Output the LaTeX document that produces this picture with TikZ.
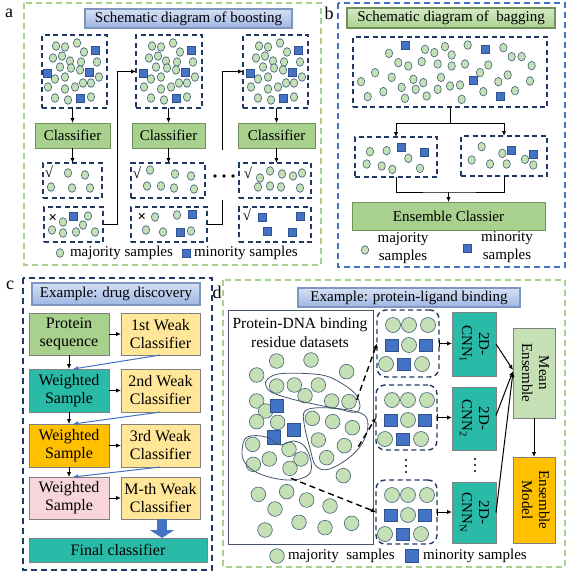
\documentclass[tikz,border=0pt]{standalone}
\usepackage{fontspec}
\usepackage{graphicx}
\setmainfont{Liberation Serif}
\usetikzlibrary{arrows.meta,calc}
\definecolor{cfill}{HTML}{C5E0B4}
\definecolor{cdraw}{HTML}{41607A}
\definecolor{sqfill}{HTML}{4472C4}
\definecolor{sqdraw}{HTML}{2F528F}
\definecolor{navy}{HTML}{1F3864}
\definecolor{pgreen}{HTML}{A9D18E}
\definecolor{gborder}{HTML}{70905C}
\definecolor{tb1}{HTML}{D6E0F3}
\definecolor{tb2}{HTML}{9EB6E4}
\definecolor{tbord}{HTML}{7F96C0}
\definecolor{tg1}{HTML}{D5E9C8}
\definecolor{tg2}{HTML}{A9D18E}
\definecolor{myteal}{HTML}{29BBA8}
\definecolor{lyellow}{HTML}{FFE699}
\definecolor{gold}{HTML}{FFC000}
\definecolor{lpink}{HTML}{F8D5DA}
\definecolor{boxgray}{HTML}{808080}
\definecolor{ablue}{HTML}{4472C4}
\definecolor{slate}{HTML}{44546A}
\begin{document}
\begin{tikzpicture}[x=1pt,y=-1pt,
  every node/.style={inner sep=0pt, outer sep=0pt, font=\fontsize{15}{17}\selectfont},
  circA/.style={draw=cdraw, fill=cfill, line width=0.6pt},
  sqA/.style={draw=sqdraw, fill=sqfill, line width=0.6pt},
  sbox/.style={draw=navy, dash pattern=on 5pt off 3.5pt, line width=1.4pt},
  panelG/.style={draw=pgreen, dash pattern=on 6pt off 4pt, line width=1.3pt},
  gbox/.style={draw=gborder, fill=pgreen, line width=0.8pt},
  tblue/.style={draw=tbord, top color=tb1, bottom color=tb2, line width=1.2pt},
  tgreen/.style={draw=gborder, top color=tg1, bottom color=tg2, line width=1.2pt},
  arr/.style={-{Latex[length=5pt,width=4.5pt]}, line width=1pt},
  barr/.style={-{Latex[length=5pt,width=4.5pt]}, line width=1pt, draw=ablue},
  cbox/.style={draw=boxgray, line width=0.8pt, align=center, font=\fontsize{16}{18}\selectfont},
  lab/.style={font=\fontsize{18}{20}\selectfont},
  dsh/.style={-{Latex[length=5pt,width=4.5pt]}, line width=1.4pt, dash pattern=on 6pt off 4pt},
]
\useasboundingbox (0,0) rectangle (567,573);

%================ PANEL A =================
\node[lab] (la) at (9,13) {a};
\draw[panelG] (24,3) rectangle (321,265);
\node[tblue, minimum width=207, minimum height=19] (ta) at (188.5,18.5) {Schematic diagram of boosting};

\node[sbox, minimum width=65, minimum height=73] (s1) at (74.5,71.5) {};
\node[sbox, minimum width=66, minimum height=73] (s2) at (169,71.5) {};
\node[sbox, minimum width=65, minimum height=73] (s3) at (275.5,71.5) {};
\foreach \ox in {42,138,245}{
  \begin{scope}[shift={(\ox,35)}]
    \foreach \x/\y in {14/11,23/12,35/8,42/17,11/23,20/21,28/26,39/27,55/27,18/32,29/33,38/35,13/44,23/42,41/48,49/48,57/42,6/52,23/54,33/52,13/63,26/65,49/62}
      \path[circA] (\x,\y) ellipse [x radius=3.7pt, y radius=4.3pt];
    \foreach \x/\y in {53/15,5/38,47/37,38/63}
      \path[sqA] (\x,\y) +(-4pt,-4pt) rectangle +(4pt,4pt);
  \end{scope}
}

\node[gbox, minimum width=75, minimum height=25] (c1) at (72.5,135.5) {Classifier};
\node[gbox, minimum width=73, minimum height=25] (c2) at (168.5,135.5) {Classifier};
\node[gbox, minimum width=77, minimum height=25] (c3) at (276.5,135.5) {Classifier};

\node[sbox, minimum width=59, minimum height=35] (r1) at (72.5,180.5) {};
\node[sbox, minimum width=74, minimum height=35] (r2) at (168,180.5) {};
\node[sbox, minimum width=72, minimum height=35] (r3) at (275,180.5) {};
\node[sbox, minimum width=59, minimum height=35] (w1) at (73.5,224.5) {};
\node[sbox, minimum width=76, minimum height=35] (w2) at (169,224.5) {};
\node[sbox, minimum width=72, minimum height=35] (w3) at (275,224.5) {};

% result contents
\node (k1) at (49,172) {\textbf{√}};
\node (k2) at (137,173) {\textbf{√}};
\node (k3) at (248,173) {\textbf{√}};
\node (x1) at (53,218) {\textbf{×}};
\node (x2) at (142,217) {\textbf{×}};
\node (k4) at (247,215) {\textbf{√}};
\foreach \x/\y in {68/173,85/175,51/187,72/188,90/188,
                   150/170,175/174,191/176,147/186,161/186,174/188,194/189,
                   260/178,270/171,282/174,293/176,302/173,258/187,270/186,281/187,300/188,
                   63/222,88/216,83/225,52/230,63/233,76/232,95/232,
                   155/217,177/215,146/230,163/232,191/231}
  \path[circA] (\x,\y) ellipse [x radius=3.7pt, y radius=4.3pt];
\foreach \x/\y in {73/216,192/214,180/232,262/217,267/231,292/232,300/216}
  \path[sqA] (\x,\y) +(-4pt,-4pt) rectangle +(4pt,4pt);

\foreach \i in {1,2,3}{
  \draw[arr] (c\i.north |- s\i.south) -- (c\i.north);
  \draw[arr] (c\i.south) -- (c\i.south |- r\i.north);
}
\draw[arr] (w1.east) -- ++(14,0) |- (s2.west);
\draw[arr] (w2.east) -- ++(15,0) |- (s3.west);
\node[fill=white, minimum width=22, minimum height=50] (gap) at (224,175) {};
\foreach \x in {215,224,233} \fill (\x,176) circle (1.8pt);

\path[circA] (60,253) ellipse [x radius=3.7pt, y radius=4.3pt];
\node[anchor=west] (lma) at (70,253) {majority samples};
\path[sqA] (182,249) rectangle (190,257);
\node[anchor=west] (lmi) at (194,253) {minority samples};

%================ PANEL B =================
\node[lab] (lb) at (329,13) {b};
\draw[panelG, draw=ablue] (338,3) rectangle (565,267);
\node[tgreen, minimum width=208, minimum height=20] (tb) at (451,18) {Schematic diagram of\ \ bagging};
\node[sbox, minimum width=194, minimum height=70] (bb) at (450,72) {};
\node[sbox, minimum width=82, minimum height=40] (bl) at (396,157) {};
\node[sbox, minimum width=86, minimum height=40] (br) at (504,156) {};
\begin{scope}[shift={(285,0)}, x=0.33333pt, y=-0.33333pt]
  \foreach \x/\y in {312/160,420/148,448/158,480/140,548/135,655/143,500/165,340/188,370/198,410/185,458/192,500/198,540/192,585/218,610/195,680/170,710/170,740/197,270/218,320/232,385/238,415/248,468/232,228/245,350/262,392/268,458/268,495/258,525/255,595/275,640/245,668/225,735/243,690/272,248/290,295/275,360/295,425/288,530/298,
     255/455,305/452,370/475,245/492,290/498,322/508,405/505,
     590/440,652/460,560/480,615/492,665/492,720/478,745/495}
    \path[circA] (\x,\y) ellipse [x radius=3.7pt, y radius=4.3pt];
  \foreach \x/\y in {360/135,602/147,565/242,645/290,348/442,418/458,680/450,745/462}
    \path[sqA] (\x,\y) +(-4pt,-4pt) rectangle +(4pt,4pt);
\end{scope}
\node[gbox, minimum width=193, minimum height=28] (ens) at (448.5,216) {Ensemble Classier};
\draw[line width=1pt] (bb.south) -- ++(0,16) coordinate (bsplit);
\draw[arr] (bsplit) -| (bl.north);
\draw[arr] (bsplit) -| (br.north);
\coordinate (bmerge) at (448.5,192);
\draw[line width=1pt] (bl.south) |- (bmerge) -| (br.south);
\draw[arr] (bmerge) -- (ens.north);
\path[circA] (365,250) ellipse [x radius=3.7pt, y radius=4.3pt];
\node[align=center, font=\fontsize{15}{18}\selectfont] (lbm) at (403,248) {majority\\samples};
\path[sqA] (463,244) rectangle (471,252);
\node[align=center, font=\fontsize{15}{18}\selectfont] (lbn) at (507,247) {minority\\samples};

%================ PANEL C =================
\node[lab] (lc) at (10,285) {c};
\draw[panelG, draw=navy] (23,278) rectangle (212,570);
\node[tblue, minimum width=168, minimum height=22] (tc) at (116,294) {Example: drug discovery};
\node[cbox, fill=pgreen, minimum width=80, minimum height=42] (p1) at (69,334) {Protein\\sequence};
\node[cbox, fill=lyellow, minimum width=79, minimum height=42] (q1) at (160.5,334) {1st Weak\\Classifier};
\node[cbox, fill=myteal, minimum width=80, minimum height=43] (p2) at (69,390.5) {Weighted\\Sample};
\node[cbox, fill=lyellow, minimum width=79, minimum height=43] (q2) at (160.5,390.5) {2nd Weak\\Classifier};
\node[cbox, fill=gold, minimum width=80, minimum height=43] (p3) at (69,445.5) {Weighted\\Sample};
\node[cbox, fill=lyellow, minimum width=79, minimum height=43] (q3) at (160.5,445.5) {3rd Weak\\Classifier};
\node[cbox, fill=lpink, minimum width=80, minimum height=42] (p4) at (69,498) {Weighted\\Sample};
\node[cbox, fill=lyellow, minimum width=79, minimum height=42] (q4) at (160.5,498) {M-th Weak\\Classifier};
\node[cbox, fill=myteal, minimum width=178, minimum height=24] (fin) at (118,550) {Final classifier};
\foreach \i in {1,2,3,4} \draw[arr] (p\i.east) -- (q\i.west);
\foreach \i/\j in {1/2,2/3,3/4}{
  \draw[arr] (p\i.south) -- (p\j.north);
  \draw[barr] (q\i.south) -- ($(p\j.north)+(4,0)$);
}
\draw[ablue, line width=10pt, -{Triangle[length=8pt 0 0, width=24pt 0 0]}] ($(q4.south)+(1.5,0)$) -- ($(q4.south |- fin.north)+(1.5,0)$);

%================ PANEL D =================
\node[lab] (ld) at (217,292) {d};
\draw[panelG] (223,280) rectangle (565,567);
\node[tblue, minimum width=222, minimum height=19] (td) at (409,297.5) {Example: protein-ligand binding};
\node[draw=slate, line width=1pt, minimum width=145, minimum height=234] (dl) at (300.5,427) {};
\node[align=center, font=\fontsize{15.5}{19}\selectfont] (dlt) at (300,332.5) {Protein-DNA binding\\residue datasets};
\begin{scope}[shift={(225,305)}, x=0.33333pt, y=-0.33333pt]
  \foreach \x/\y in {155/168,258/165,95/210,365/200,155/243,208/240,280/240,240/272,320/288,372/290,95/288,122/318,95/350,158/352,262/340,323/350,382/368,280/405,358/422,83/418,192/433,85/478,133/462,228/462,305/458,195/490,355/512,100/568,185/560,245/585,315/603,150/612,222/652,300/668,380/655,120/675}
    \path[circA] (\x,\y) circle (7.3pt);
  \foreach \x/\y in {155/302,207/375,147/397}
    \path[sqA] (\x,\y) +(-6.6pt,-6.6pt) rectangle +(6.6pt,6.6pt);
  \draw[slate, line width=0.8pt] plot[smooth cycle, tension=0.6] coordinates {(128,222) (160,207) (230,205) (300,212) (350,235) (392,268) (405,305) (390,322) (340,312) (270,298) (200,282) (140,262) (122,240)};
  \draw[slate, line width=0.8pt] plot[smooth cycle, tension=0.6] coordinates {(240,318) (290,308) (370,315) (420,332) (428,370) (410,418) (370,460) (310,493) (272,482) (255,430) (238,360)};
  \draw[slate, line width=0.8pt] plot[smooth cycle, tension=0.6] coordinates {(58,405) (85,392) (130,398) (165,420) (205,408) (240,425) (258,470) (252,508) (205,525) (135,517) (78,492) (52,455)};
  \coordinate (b1e) at (395,285);
  \coordinate (b2e) at (400,425);
  \coordinate (b3e) at (198,520);
\end{scope}

\node[sbox, rounded corners=9pt, minimum width=62, minimum height=67] (d1) at (408,343.5) {};
\node[sbox, rounded corners=9pt, minimum width=61, minimum height=65] (d2) at (406.5,417.5) {};
\node[sbox, rounded corners=9pt, minimum width=61, minimum height=64] (d3) at (406.5,512) {};
\foreach \bx/\by in {377/310,376/385,376/480}{
  \begin{scope}[shift={(\bx,\by)}]
    \foreach \x/\y in {16/15,32/15,51/15,32/35,9/54,45/54}
      \path[circA] (\x,\y) circle (7.5pt);
    \foreach \x/\y in {15/35,49/35,27/54}
      \path[sqA] (\x,\y) +(-6.5pt,-6pt) rectangle +(6.5pt,6pt);
  \end{scope}
}
\draw[dsh] (b1e) -- (d1.west);
\draw[dsh] (b2e) -- (d2.west);
\draw[dsh] (b3e) -- (d3.west);

\node[cbox, fill=myteal, minimum width=44, minimum height=64] (n1) at (474,344) {\rotatebox{-90}{\fontsize{15}{17}\selectfont\begin{tabular}{@{}c@{}}2D-\\CNN\textsubscript{1}\end{tabular}}};
\node[cbox, fill=myteal, minimum width=44, minimum height=63] (n2) at (474,418.5) {\rotatebox{-90}{\fontsize{15}{17}\selectfont\begin{tabular}{@{}c@{}}2D-\\CNN\textsubscript{2}\end{tabular}}};
\node[cbox, fill=myteal, minimum width=44, minimum height=61] (n3) at (474,512.5) {\rotatebox{-90}{\fontsize{15}{17}\selectfont\begin{tabular}{@{}c@{}}2D-\\CNN\textsubscript{N}\end{tabular}}};
\node[cbox, fill=cfill, minimum width=42, minimum height=90] (me) at (534,373) {\rotatebox{-90}{\fontsize{15}{17}\selectfont\begin{tabular}{@{}c@{}}Mean\\Ensemble\end{tabular}}};
\node[cbox, fill=gold, minimum width=42, minimum height=86] (em) at (534,500) {\rotatebox{-90}{\fontsize{15}{17}\selectfont\begin{tabular}{@{}c@{}}Ensemble\\Model\end{tabular}}};

\foreach \i in {1,2,3}
  \draw[{Bar[width=7pt]}-{Latex[length=5pt,width=4.5pt]}, line width=1pt] (d\i.east) -- (d\i.east -| n\i.west);
\draw[arr] (n1.east) -- ($(me.west)+(0,-3)$);
\draw[arr] ($(n2.east)+(0,-3)$) -- ($(me.west)+(0,-2)$);
\draw[arr] (n3.east) -- ($(me.west)+(0,-1)$);
\draw[arr] (me.south) -- (em.north);
\foreach \y in {460,466,472} \fill (406,\y) circle (1.2pt);
\foreach \y in {459,465,471} \fill (475,\y) circle (1.2pt);

\path[circA] (277,556) circle (7.3pt);
\node[anchor=west] (ldm) at (288,556) {majority\ \ samples};
\path[sqA] (405,549.5) rectangle (418,562.5);
\node[anchor=west] (ldn) at (423,556) {minority samples};
\end{tikzpicture}
\end{document}
